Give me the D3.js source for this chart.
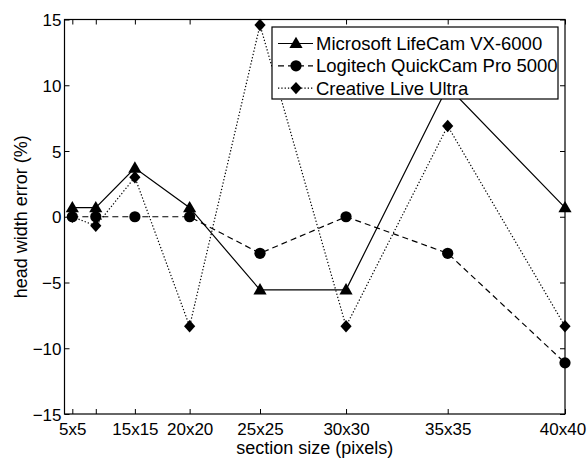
<!DOCTYPE html>
<html>
<head>
<meta charset="utf-8">
<script src="https://cdn.jsdelivr.net/npm/d3@7"></script>
<style>
  html, body { margin: 0; padding: 0; background: #fff; }
  svg { display: block; font-family: "Liberation Sans", Arial, sans-serif; }
</style>
</head>
<body>
<svg id="chart" width="587" height="462"></svg>
<script>
// Section sizes, plotted by their pixel area (side * side)
const sectionSides = [5, 10, 15, 20, 25, 30, 35, 40];
const tickLabels = ["5x5", "", "15x15", "20x20", "25x25", "30x30", "35x35", "40x40"];
const yTicks = [-15, -10, -5, 0, 5, 10, 15];

// Head width error (%) per camera
const microsoftVals = [0.69, 0.69, 3.7, 0.69, -5.56, -5.56, 9.9, 0.69];
const logitechVals  = [0, 0, 0, 0, -2.78, 0, -2.78, -11.11];
const creativeVals  = [0, -0.69, 3.0, -8.33, 14.58, -8.33, 6.9, -8.33];

const seriesNames = ["Microsoft LifeCam VX-6000", "Logitech QuickCam Pro 5000", "Creative Live Ultra"];

const svg = d3.select("#chart");
const W = 587, H = 462;
const m = { left: 64.5, right: 22, top: 19.5, bottom: 48 };
const x0 = m.left, x1 = W - m.right, y0 = H - m.bottom, y1 = m.top;

const x = d3.scaleLinear().domain([0, 1600]).range([x0, x1]);
const y = d3.scaleLinear().domain([-15, 15]).range([y0, y1]);
const areas = sectionSides.map(s => s * s);

// Marker shapes
const markerPaths = {
  triangle: "M0,-6.8L6.6,4.6L-6.6,4.6Z",
  circle: d3.symbol(d3.symbolCircle, Math.PI * 5.6 * 5.6)(),
  diamond: "M0,-6.2L5.6,0L0,6.2L-5.6,0Z"
};

const series = [
  { name: seriesNames[0], vals: microsoftVals, dash: null, marker: "triangle" },
  { name: seriesNames[1], vals: logitechVals, dash: "6,4", marker: "circle" },
  { name: seriesNames[2], vals: creativeVals, dash: "1.3,2", marker: "diamond" }
];

const tickLen = 5;
const tickFont = 17;
const titleFont = 18;
const legendFont = 18.5;
const fontFamily = '"Liberation Sans", Arial, sans-serif';

// Axes: bottom + top, left + right, ticks pointing inward
const gx = svg.append("g").attr("transform", `translate(0,${y0})`)
  .call(d3.axisBottom(x).tickValues(areas).tickSizeInner(-tickLen).tickSizeOuter(0)
    .tickFormat((d, i) => tickLabels[i]));
const gxTop = svg.append("g").attr("transform", `translate(0,${y1})`)
  .call(d3.axisTop(x).tickValues(areas).tickSizeInner(-tickLen).tickSizeOuter(0).tickFormat(""));
const gy = svg.append("g").attr("transform", `translate(${x0},0)`)
  .call(d3.axisLeft(y).tickValues(yTicks).tickSizeInner(-tickLen).tickSizeOuter(0).tickPadding(3));
const gyR = svg.append("g").attr("transform", `translate(${x1},0)`)
  .call(d3.axisRight(y).tickValues(yTicks).tickSizeInner(-tickLen).tickSizeOuter(0).tickFormat(""));

[gx, gxTop, gy, gyR].forEach(g => {
  g.select(".domain").remove();
  g.selectAll(".tick line").attr("stroke", "#000").attr("stroke-width", 1);
  g.selectAll("text").attr("fill", "#000").style("font-size", tickFont + "px")
    .style("font-family", fontFamily);
});
gx.selectAll(".tick text").attr("y", 20.5).attr("dy", 0);
// keep the last label inside the page edge
gx.selectAll(".tick text").filter((d, i) => i === areas.length - 1).attr("x", -2.5);
gy.selectAll(".tick text").attr("dy", "0.36em");

// Frame
svg.append("rect")
  .attr("x", x0).attr("y", y1).attr("width", x1 - x0).attr("height", y0 - y1)
  .attr("fill", "none").attr("stroke", "#000").attr("stroke-width", 1.2);

// Axis titles
svg.append("text")
  .attr("x", (x0 + x1) / 2).attr("y", 454)
  .attr("text-anchor", "middle").style("font-size", titleFont + "px")
  .text("section size (pixels)");
svg.append("text")
  .attr("transform", `translate(${27},${(y0 + y1) / 2}) rotate(-90)`)
  .attr("text-anchor", "middle").style("font-size", titleFont + "px")
  .text("head width error (%)");

// Series lines and markers
const line = d3.line().x((d, i) => x(areas[i])).y(d => y(d));
series.forEach(s => {
  svg.append("path")
    .datum(s.vals)
    .attr("d", line)
    .attr("fill", "none").attr("stroke", "#000").attr("stroke-width", 1.2)
    .attr("stroke-dasharray", s.dash);
  svg.append("g").selectAll("path").data(s.vals).join("path")
    .attr("d", markerPaths[s.marker])
    .attr("transform", (d, i) => `translate(${x(areas[i])},${y(d)})`)
    .attr("fill", "#000");
});

// Legend
const lg = { x: 272, y: 27, w: 286, h: 72, rowH: 22.3, firstRow: 16.5 };
const legend = svg.append("g").attr("transform", `translate(${lg.x},${lg.y})`);
legend.append("rect").attr("width", lg.w).attr("height", lg.h)
  .attr("fill", "#fff").attr("stroke", "#000").attr("stroke-width", 1.2);
series.forEach((s, i) => {
  const ry = lg.firstRow + i * lg.rowH;
  legend.append("line")
    .attr("x1", 6).attr("x2", 41).attr("y1", ry).attr("y2", ry)
    .attr("stroke", "#000").attr("stroke-width", 1.2).attr("stroke-dasharray", s.dash);
  legend.append("path").attr("d", markerPaths[s.marker])
    .attr("transform", `translate(${24},${ry})`).attr("fill", "#000");
  legend.append("text").attr("x", 44).attr("y", ry).attr("dy", "0.36em")
    .style("font-size", legendFont + "px").text(s.name);
});
</script>
</body>
</html>
